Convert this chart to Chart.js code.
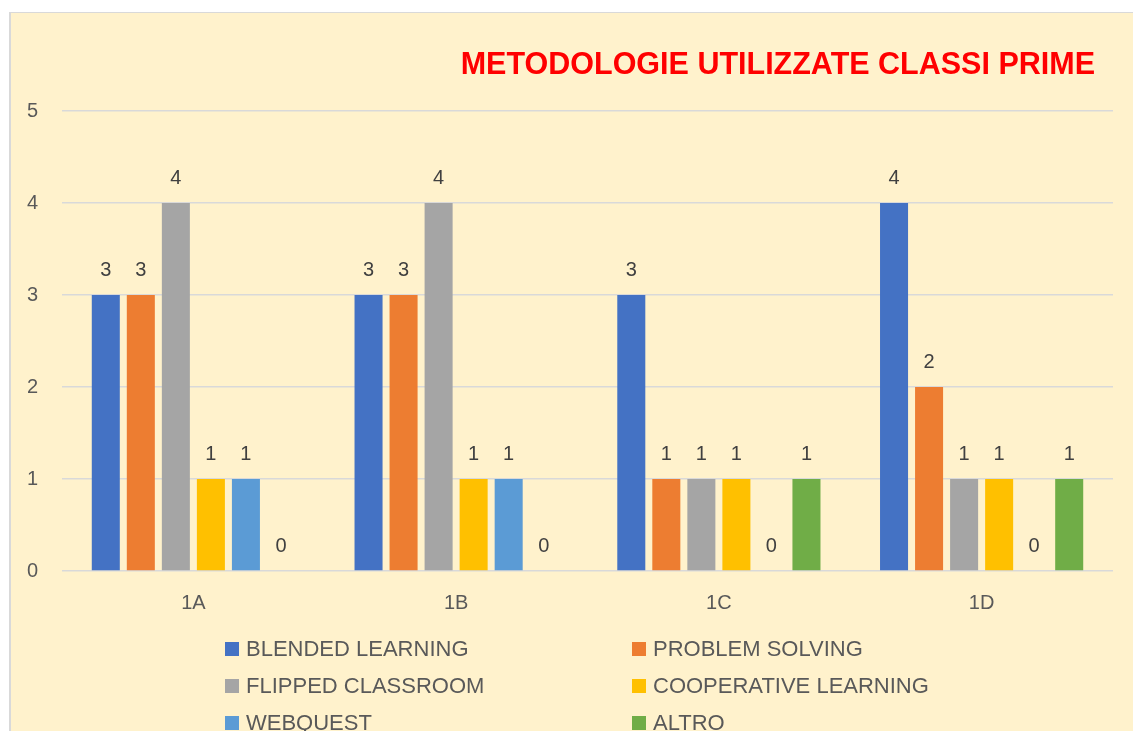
<!DOCTYPE html>
<html lang="it">
<head>
<meta charset="utf-8">
<title>Metodologie utilizzate classi prime</title>
<script src="https://cdn.jsdelivr.net/npm/chart.js@4/dist/chart.umd.min.js"></script>
<style>
  html, body { margin: 0; padding: 0; background: #ffffff; }
  body { position: relative; width: 1133px; height: 731px; overflow: hidden; font-family: "Liberation Sans", Arial, sans-serif; }
  #panel { position: absolute; left: 9px; top: 12px; width: 1200px; height: 800px;
           background: #FFF2CC; border-left: 2px solid #D9D9D9; border-top: 1.5px solid #D9D9D9; }
  #chart { position: absolute; left: 0; top: 0; }
  #title { position: absolute; right: 38px; top: 46px; line-height: 36px; white-space: nowrap;
           font: bold 30.5px "Liberation Sans", Arial, sans-serif; color: #FF0000; }
  .leg { position: absolute; height: 26px; line-height: 26px; white-space: nowrap;
         font: 22px "Liberation Sans", Arial, sans-serif; color: #595959; }
  .leg i { position: absolute; left: 0; top: 6px; width: 14px; height: 14px; }
  .leg span { position: absolute; left: 21px; top: 0; }
</style>
</head>
<body>
<div id="panel"></div>
<canvas id="chart" width="1133" height="731"></canvas>
<div id="title">METODOLOGIE UTILIZZATE CLASSI PRIME</div>
<div id="legend"></div>
<script>
// Classes on the x axis
const classes = ['1A', '1B', '1C', '1D'];

// Number of teachers using each methodology, per class
const blendedLearning     = [3, 3, 3, 4];
const problemSolving      = [3, 3, 1, 2];
const flippedClassroom    = [4, 4, 1, 1];
const cooperativeLearning = [1, 1, 1, 1];
const webquest            = [1, 1, 0, 0];
const altro               = [0, 0, 1, 1];

const seriesNames  = ['BLENDED LEARNING', 'PROBLEM SOLVING', 'FLIPPED CLASSROOM',
                      'COOPERATIVE LEARNING', 'WEBQUEST', 'ALTRO'];
const seriesValues = [blendedLearning, problemSolving, flippedClassroom,
                      cooperativeLearning, webquest, altro];
const seriesColors = ['#4472C4', '#ED7D31', '#A5A5A5', '#FFC000', '#5B9BD5', '#70AD47'];

// Y axis tick values
const yTicks = [0, 1, 2, 3, 4, 5];

const FONT = '"Liberation Sans", Arial, sans-serif';

// Writes each bar's value just above its top
const valueLabels = {
  id: 'valueLabels',
  afterDatasetsDraw(chart) {
    const ctx = chart.ctx;
    ctx.save();
    ctx.font = '20px ' + FONT;
    ctx.fillStyle = '#404040';
    ctx.textAlign = 'center';
    ctx.textBaseline = 'middle';
    chart.data.datasets.forEach((ds, di) => {
      const meta = chart.getDatasetMeta(di);
      if (meta.hidden) return;
      meta.data.forEach((bar, i) => {
        ctx.fillText(String(ds.data[i]), bar.x, bar.y - 25);
      });
    });
    ctx.restore();
  }
};

const chart = new Chart(document.getElementById('chart'), {
  type: 'bar',
  data: {
    labels: classes,
    datasets: seriesNames.map((name, k) => ({
      label: name,
      data: seriesValues[k],
      backgroundColor: seriesColors[k],
      borderWidth: 0,
      categoryPercentage: 0.8,
      barPercentage: 0.8
    }))
  },
  options: {
    responsive: false,
    devicePixelRatio: 1,
    animation: false,
    layout: { padding: { top: 111, right: 20, bottom: 116, left: 0 } },
    plugins: {
      legend: { display: false },
      title: { display: false },
      tooltip: { enabled: false }
    },
    scales: {
      x: {
        grid: { display: false, drawTicks: false },
        border: { display: false },
        ticks: { color: '#595959', font: { family: FONT, size: 20 }, padding: 20 },
        afterFit(scale) { scale.height = 44; }
      },
      y: {
        min: yTicks[0],
        max: yTicks[yTicks.length - 1],
        afterBuildTicks(scale) { scale.ticks = yTicks.map(v => ({ value: v })); },
        grid: { color: '#D9D9D9', lineWidth: 1.5, drawTicks: false },
        border: { display: false },
        ticks: { color: '#595959', font: { family: FONT, size: 20 }, padding: 24 },
        afterFit(scale) { scale.width = 62; }
      }
    }
  },
  plugins: [valueLabels]
});

// Two-column legend under the plot, built from the chart's own legend items
const legendEl = document.getElementById('legend');
const items = Chart.defaults.plugins.legend.labels.generateLabels(chart);
const colX = [225, 632];
const rowY = [649, 686, 723];
items.forEach((it, i) => {
  const d = document.createElement('div');
  d.className = 'leg';
  d.style.left = colX[i % 2] + 'px';
  d.style.top = (rowY[Math.floor(i / 2)] - 13) + 'px';
  const sw = document.createElement('i');
  sw.style.background = it.fillStyle;
  const tx = document.createElement('span');
  tx.textContent = it.text;
  d.appendChild(sw);
  d.appendChild(tx);
  legendEl.appendChild(d);
});
</script>
</body>
</html>
